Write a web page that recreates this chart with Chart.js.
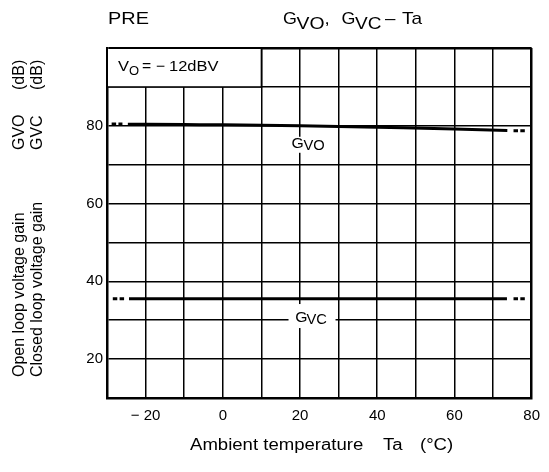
<!DOCTYPE html>
<html>
<head>
<meta charset="utf-8">
<script src="https://cdn.jsdelivr.net/npm/chart.js@4.4.0/dist/chart.umd.min.js"></script>
<style>
  body { margin: 0; background: #fff; }
</style>
</head>
<body>
<canvas id="chart" width="549" height="472"></canvas>
<script>
// ambient temperature (°C) / gain (dB)
const gvoTemp = [-24.6, -10, 0, 20, 40, 60, 73.7];
const gvoGain = [80.4, 80.3, 80.25, 80.0, 79.6, 79.2, 78.8];
const gvoDotLeftTemp = [-28.8, -26.0];
const gvoDotLeftGain = [80.45, 80.45];
const gvoDotRightTemp = [75.3, 78.5];
const gvoDotRightGain = [78.75, 78.75];

const gvcTemp = [-24.3, 73.6];
const gvcGain = [35.5, 35.5];
const gvcDotLeftTemp = [-28.5, -25.4];
const gvcDotLeftGain = [35.5, 35.5];
const gvcDotRightTemp = [75.3, 78.3];
const gvcDotRightGain = [35.5, 35.5];

const xTickLabels = [-20, 0, 20, 40, 60, 80];
const yTickLabels = [20, 40, 60, 80];

const FONT = "'Liberation Sans', Arial, sans-serif";

const pts = (xs, ys) => xs.map((x, i) => ({ x: x, y: ys[i] }));

// draw text stretched a little sideways, like the scanned sheet
function txt(ctx, s, x, y, size, sx) {
  ctx.save();
  ctx.translate(x, y);
  ctx.scale(sx || 1, 1);
  ctx.font = size + "px " + FONT;
  ctx.fillStyle = "#000";
  ctx.textAlign = "left";
  ctx.textBaseline = "alphabetic";
  ctx.fillText(s, 0, 0);
  ctx.restore();
}

const solid = (label, data) => ({
  label: label,
  data: data,
  borderColor: "#000",
  borderWidth: 3,
  pointRadius: 0,
  cubicInterpolationMode: "monotone",
  borderCapStyle: "butt",
});
const dotted = (label, data) => ({
  label: label,
  data: data,
  borderColor: "#000",
  borderWidth: 3,
  pointRadius: 0,
  borderDash: [4.5, 2.3],
  borderCapStyle: "butt",
});

const decorations = {
  id: "decorations",
  afterDatasetsDraw(chart) {
    const ctx = chart.ctx;
    const xs = chart.scales.x;
    const ys = chart.scales.y;
    const area = chart.chartArea;

    // condition box in the upper left corner
    const bx = xs.getPixelForValue(10);
    const by = ys.getPixelForValue(90);
    ctx.save();
    ctx.fillStyle = "#fff";
    ctx.fillRect(area.left + 1, area.top + 1, bx - area.left - 1, by - area.top - 1);
    ctx.strokeStyle = "#000";
    ctx.lineWidth = 1.5;
    ctx.beginPath();
    ctx.moveTo(bx, area.top);
    ctx.lineTo(bx, by);
    ctx.lineTo(area.left, by);
    ctx.stroke();
    ctx.restore();
    txt(ctx, "V", area.left + 11, area.top + 23, 15, 1.1);
    txt(ctx, "O", area.left + 22, area.top + 27, 13, 1.0);
    txt(ctx, "=", area.left + 35, area.top + 23, 15, 1.05);
    txt(ctx, "\u2212", area.left + 49, area.top + 23, 15, 1.05);
    txt(ctx, "12dBV", area.left + 62, area.top + 23, 15, 1.1);

    // curve labels with white knock-out
    let px = xs.getPixelForValue(20);
    let py = ys.getPixelForValue(75.5);
    ctx.fillStyle = "#fff";
    ctx.fillRect(px - 10.5, py - 6.5, 39, 16);
    txt(ctx, "G", px - 8.5, py + 5, 15, 1.05);
    txt(ctx, "VO", px + 3.5, py + 7, 14, 1.05);

    py = ys.getPixelForValue(31);
    ctx.fillStyle = "#fff";
    ctx.fillRect(px - 11.5, py - 12.3, 47, 24);
    txt(ctx, "G", px - 4.8, py + 5.4, 15, 1.05);
    txt(ctx, "VC", px + 6.5, py + 8, 14, 1.05);

    // heading
    txt(ctx, "PRE", 108, 24, 17, 1.17);
    txt(ctx, "G", 283, 24, 17, 1.05);
    txt(ctx, "VO", 296.5, 29, 17, 1.14);
    txt(ctx, ",", 324.5, 24, 17, 1.1);
    txt(ctx, "G", 341.5, 24, 17, 1.05);
    txt(ctx, "VC", 355, 29, 17, 1.12);
    txt(ctx, "\u2013", 385, 24, 17, 1.1);
    txt(ctx, "Ta", 402, 24, 17, 1.12);

    // x axis title
    txt(ctx, "Ambient temperature", 190, 450, 16, 1.16);
    txt(ctx, "Ta", 383, 450, 16, 1.16);
    txt(ctx, "(\u00B0C)", 420, 450, 16, 1.16);

    // y axis titles, rotated
    ctx.save();
    ctx.rotate(-Math.PI / 2);
    ctx.font = "16px " + FONT;
    ctx.fillStyle = "#000";
    ctx.fillText("Open loop voltage gain", -377, 24);
    ctx.fillText("GVO", -150, 24);
    ctx.fillText("(dB)", -90, 24);
    ctx.fillText("Closed loop voltage gain", -377, 42);
    ctx.fillText("GVC", -150, 42);
    ctx.fillText("(dB)", -90, 42);
    ctx.restore();
  },
};

new Chart(document.getElementById("chart"), {
  type: "line",
  data: {
    datasets: [
      solid("GVO", pts(gvoTemp, gvoGain)),
      dotted("GVO low", pts(gvoDotLeftTemp, gvoDotLeftGain)),
      dotted("GVO high", pts(gvoDotRightTemp, gvoDotRightGain)),
      solid("GVC", pts(gvcTemp, gvcGain)),
      dotted("GVC low", pts(gvcDotLeftTemp, gvcDotLeftGain)),
      dotted("GVC high", pts(gvcDotRightTemp, gvcDotRightGain)),
    ],
  },
  options: {
    responsive: false,
    animation: false,
    devicePixelRatio: 1,
    layout: { padding: { top: 48, right: 14, left: 0, bottom: 0 } },
    plugins: {
      legend: { display: false },
      tooltip: { enabled: false },
      title: { display: false },
    },
    scales: {
      x: {
        type: "linear",
        min: -30,
        max: 80,
        afterFit: (scale) => { scale.height = 74; },
        ticks: {
          stepSize: 10,
          autoSkip: false,
          maxRotation: 0,
          padding: 9,
          color: "#000",
          font: { family: FONT, size: 15 },
          callback: (v) =>
            xTickLabels.includes(v) ? (v < 0 ? "\u2212 " + Math.abs(v) : String(v)) : "",
        },
        grid: {
          color: "#000",
          lineWidth: (c) => (c.tick && c.tick.value === 80 ? 2.5 : 1.5),
          drawTicks: false,
        },
        border: { display: true, color: "#000", width: 2.5 },
      },
      y: {
        min: 10,
        max: 100,
        afterFit: (scale) => { scale.width = 107; },
        ticks: {
          stepSize: 10,
          autoSkip: false,
          padding: 4,
          color: "#000",
          font: { family: FONT, size: 15 },
          callback: (v) => (yTickLabels.includes(v) ? String(v) : ""),
        },
        grid: {
          color: "#000",
          lineWidth: (c) => (c.tick && c.tick.value === 100 ? 2.5 : 1.5),
          drawTicks: false,
        },
        border: { display: true, color: "#000", width: 2.5 },
      },
    },
  },
  plugins: [decorations],
});
</script>
</body>
</html>
